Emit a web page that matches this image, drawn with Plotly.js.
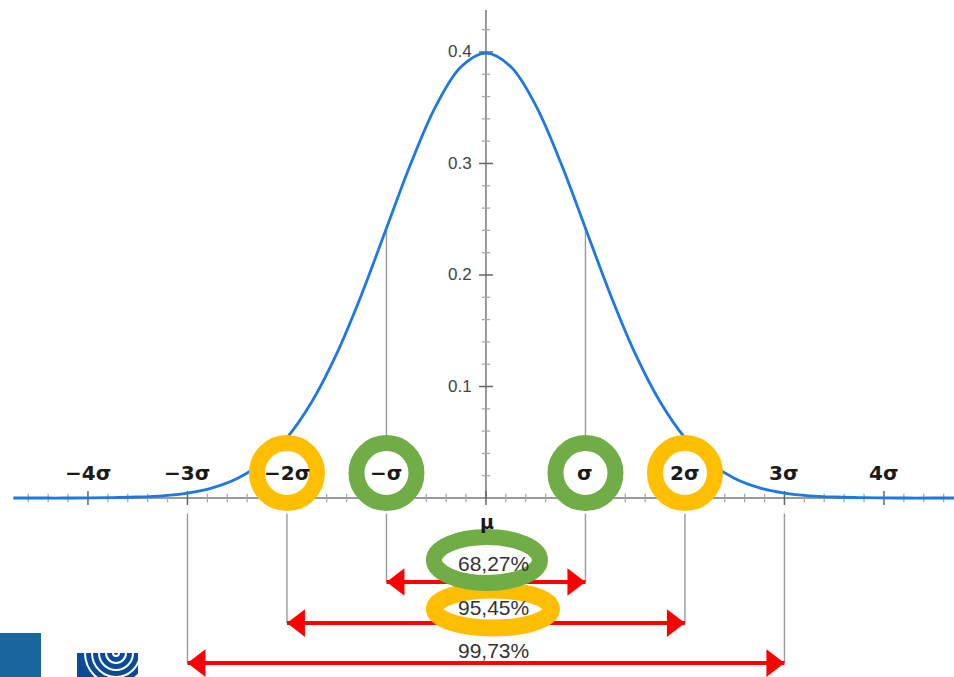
<!DOCTYPE html>
<html>
<head>
<meta charset="utf-8">
<script src="https://cdn.plot.ly/plotly-3.0.1.min.js"></script>
<style>html,body{margin:0;padding:0;background:#fff;}#chart{width:954px;height:677px;}</style>
</head>
<body>
<div id="chart"></div>
<script>
// ---------------- data ----------------
const curveX = [-4.75,-4.5,-4.25,-4,-3.75,-3.5,-3.25,-3,-2.75,-2.5,-2.25,-2,-1.75,-1.5,-1.25,-1,-0.75,-0.5,-0.25,0,
                0.25,0.5,0.75,1,1.25,1.5,1.75,2,2.25,2.5,2.75,3,3.25,3.5,3.75,4,4.25,4.5,4.75];
const curveY = [0.000,0.000,0.000,0.0001,0.0004,0.0009,0.002,0.0044,0.0091,0.0175,0.0317,0.054,0.0863,0.1295,0.1826,0.242,0.3011,0.3521,0.3867,0.3989,
                0.3867,0.3521,0.3011,0.242,0.1826,0.1295,0.0863,0.054,0.0317,0.0175,0.0091,0.0044,0.002,0.0009,0.0004,0.0001,0.000,0.000,0.000];
const sigmaTicks  = [-4,-3,-2,-1,1,2,3,4];
const sigmaLabels = ['−4σ','−3σ','−2σ','−σ','σ','2σ','3σ','4σ'];
const yTickVals   = [0.1,0.2,0.3,0.4];
const yTickText   = ['0.1','0.2','0.3','0.4'];
const intervalK   = [1,2,3];
const intervalPct = ['68,27%','95,45%','99,73%'];

// ---------------- layout constants ----------------
const W = 954, H = 677;
const xRange = [-4.884, 4.704];
const yRange = [-0.1605, 0.4466];
const pxPerX = W / (xRange[1]-xRange[0]);
const axisLeft = -4.74, yAxisTop = 0.4377;
const labelY = 0.0224, muY = -0.0215;
const arrowY = [-0.0753,-0.1121,-0.1480];
const pctY   = [-0.0587,-0.0982,-0.1363];
const dropTop = -0.014;
const ORANGE = '#FFBF00', GREEN = '#70AD47', RED = '#FF0000', BLUE = '#1E78E2';

const traces = [];
// minor / major ticks on the axes
const xMinor = [], yMinor = [];
for (let i = -23; i <= 23; i++) { if (i % 5 !== 0) xMinor.push(i/5); }
for (let i = 1; i <= 21; i++) { if (i % 5 !== 0) yMinor.push(i/50); }
const xMajor = [-4,-3,-2,-1,0,1,2,3,4];
traces.push({x:xMinor, y:xMinor.map(()=>0), mode:'markers', hoverinfo:'skip',
  marker:{symbol:'line-ns', size:6, line:{width:1.3, color:'#a8a8a8'}}});
traces.push({x:xMajor, y:xMajor.map(()=>0), mode:'markers', hoverinfo:'skip',
  marker:{symbol:'line-ns', size:10, line:{width:1.5, color:'#666'}}});
traces.push({x:yMinor.map(()=>0), y:yMinor, mode:'markers', hoverinfo:'skip',
  marker:{symbol:'line-ew', size:6, line:{width:1.3, color:'#a8a8a8'}}});
traces.push({x:yTickVals.map(()=>0), y:yTickVals, mode:'markers', hoverinfo:'skip',
  marker:{symbol:'line-ew', size:10, line:{width:1.5, color:'#666'}}});
// the curve
traces.push({x:curveX, y:curveY, mode:'lines', hoverinfo:'skip',
  line:{color:BLUE, width:2.8, shape:'spline', smoothing:1}});
// red double arrows
intervalK.forEach((k,i)=>{
  traces.push({x:[-k,k], y:[arrowY[i],arrowY[i]], mode:'lines', hoverinfo:'skip',
    line:{color:RED, width:4}});
  const off = 12/pxPerX;
  traces.push({x:[-k+off, k-off], y:[arrowY[i],arrowY[i]], mode:'markers', hoverinfo:'skip',
    marker:{symbol:['triangle-left','triangle-right'], size:24, color:RED, line:{width:0}}});
});

// ---------------- shapes ----------------
const shapes = [];
// bottom-left decorations
shapes.push({type:'rect', xref:'paper', yref:'paper', x0:0, x1:41/W, y0:0, y1:1-633/H,
  fillcolor:'#1A679F', line:{width:0}, layer:'below'});
shapes.push({type:'rect', xref:'paper', yref:'paper', x0:77/W, x1:138/W, y0:0, y1:1-653/H,
  fillcolor:'#0B4A94', line:{width:0}, layer:'below'});
[3,10,17,24,31].forEach(r=>{
  shapes.push({type:'circle', xref:'paper', yref:'paper', xsizemode:'pixel', ysizemode:'pixel',
    xanchor:116/W, yanchor:1-653/H, x0:-r, x1:r, y0:-r, y1:r,
    line:{color:'#fff', width:2}, layer:'below'});
});
// axes
shapes.push({type:'line', xref:'x', yref:'y', x0:axisLeft, x1:xRange[1], y0:0, y1:0,
  line:{color:'#777', width:1.5}, layer:'below'});
shapes.push({type:'line', xref:'x', yref:'y', x0:0, x1:0, y0:0, y1:yAxisTop,
  line:{color:'#777', width:1.5}, layer:'below'});
// gray guide lines
const sigmaTop = curveY[curveX.indexOf(1)];
[-1,1].forEach(s=>{
  shapes.push({type:'line', xref:'x', yref:'y', x0:s, x1:s, y0:0, y1:sigmaTop,
    line:{color:'#9a9a9a', width:1.4}, layer:'below'});
});
intervalK.forEach((k,i)=>{
  [-k,k].forEach(s=>{
    shapes.push({type:'line', xref:'x', yref:'y', x0:s, x1:s, y0:dropTop, y1:arrowY[i],
      line:{color:'#9a9a9a', width:1.4}, layer:'below'});
  });
});
// rings around labels
const ring = (xc, yc, col, rx0, rx1, ry, w) => ({type:'circle', xref:'x', yref:'y',
  xsizemode:'pixel', ysizemode:'pixel', xanchor:xc, yanchor:yc,
  x0:rx0, x1:rx1, y0:-ry, y1:ry, line:{color:col, width:w}, fillcolor:'#fff', layer:'above'});
shapes.push(ring(-2, labelY, ORANGE, -30, 30, 30, 16));
shapes.push(ring( 2, labelY, ORANGE, -30, 30, 30, 16));
shapes.push(ring(-1, labelY, GREEN, -30, 30, 30, 16));
shapes.push(ring( 1, labelY, GREEN, -30, 30, 30, 16));
shapes.push(ring(0, -0.0996, ORANGE, -51.5, 65.5, 19, 17));
shapes.push(ring(0, -0.0556, GREEN, -52, 54, 23, 16));

// ---------------- annotations ----------------
const annotations = [];
sigmaTicks.forEach((v,i)=>{
  annotations.push({x:v, y:labelY, xref:'x', yref:'y', text:sigmaLabels[i], showarrow:false,
    xanchor:'center', yanchor:'middle',
    font:{family:'DejaVu Sans', size:20, color:'#1a1a1a', weight:'bold'}});
});
annotations.push({x:0, y:muY, xref:'x', yref:'y', text:'μ', showarrow:false, xshift:1,
  xanchor:'center', yanchor:'middle', font:{family:'DejaVu Sans', size:19, color:'#1a1a1a', weight:'bold'}});
yTickVals.forEach((v,i)=>{
  annotations.push({x:0, y:v, xref:'x', yref:'y', text:yTickText[i], showarrow:false,
    xanchor:'right', yanchor:'middle', xshift:-12,
    font:{family:'Liberation Sans', size:17, color:'#444'}});
});
intervalPct.forEach((t,i)=>{
  annotations.push({x:0, y:pctY[i], xref:'x', yref:'y', text:t, showarrow:false,
    xanchor:'center', yanchor:'middle', xshift:8,
    font:{family:'Liberation Sans', size:21, color:'#333'}});
});

const layout = {
  width:W, height:H, margin:{l:0,r:0,t:0,b:0},
  paper_bgcolor:'#fff', plot_bgcolor:'#fff', showlegend:false, hovermode:false,
  xaxis:{range:xRange, visible:false, fixedrange:true},
  yaxis:{range:yRange, visible:false, fixedrange:true},
  shapes:shapes, annotations:annotations
};
Plotly.newPlot('chart', traces, layout, {staticPlot:true, displayModeBar:false});
</script>
</body>
</html>
